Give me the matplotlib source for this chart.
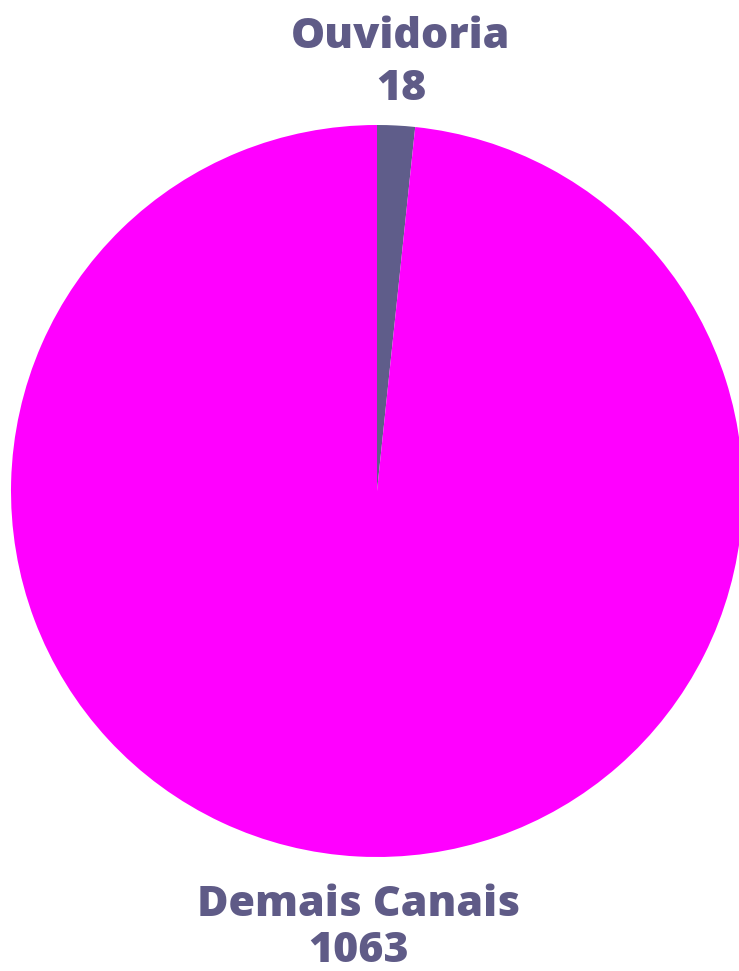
import matplotlib
matplotlib.use("Agg")
import matplotlib.pyplot as plt

labels = ["Ouvidoria", "Demais Canais"]
values = [18, 1063]
colors = ["#5f5d8a", "#ff00ff"]
text_color = "#5f5b87"

W, H = 739, 971

fig = plt.figure(figsize=(W / 100, H / 100), dpi=100)
ax = fig.add_axes([0, 0, 1, 1])

# pixel coordinates, y measured from the bottom
ax.pie(values, colors=colors, startangle=90, counterclock=False,
       center=(377, H - 491), radius=366, frame=True,
       wedgeprops=dict(linewidth=0))

ax.set_xlim(0, W)
ax.set_ylim(0, H)
ax.set_aspect("equal")
ax.axis("off")

font = dict(family="Open Sans", fontweight="heavy", fontsize=31, color=text_color,
            ha="center", va="baseline")
ax.text(401, H - 48, labels[0], **font)
ax.text(401, H - 100, str(values[0]), **font)
ax.text(359, H - 916, labels[1], **font)
ax.text(359, H - 962, str(values[1]), **font)

fig.savefig("out.png", dpi=100)
